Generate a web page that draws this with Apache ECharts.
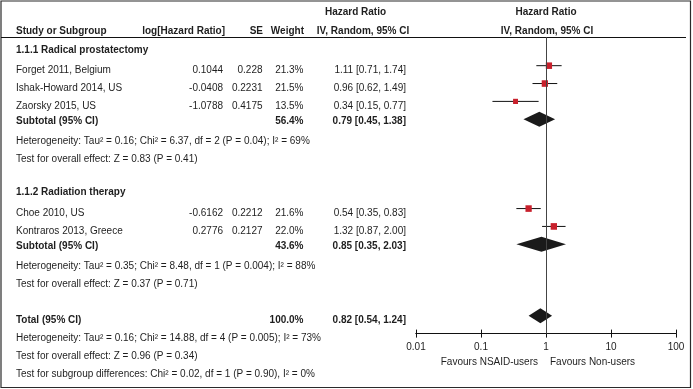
<!DOCTYPE html>
<html><head><meta charset="utf-8">
<script src="https://cdn.jsdelivr.net/npm/echarts@6/dist/echarts.min.js"></script>
<style>html,body{margin:0;padding:0;background:#fff}#c{width:693px;height:389px}</style>
</head><body><div id="c"></div>
<script>
// ---------- data ----------
const groupNames = ['1.1.1 Radical prostatectomy', '1.1.2 Radiation therapy'];
const studies = ['Forget 2011, Belgium', 'Ishak-Howard 2014, US', 'Zaorsky 2015, US', 'Choe 2010, US', 'Kontraros 2013, Greece'];
const studyGroup = [0, 0, 0, 1, 1];
const logHR = ['0.1044', '-0.0408', '-1.0788', '-0.6162', '0.2776'];
const seVals = ['0.228', '0.2231', '0.4175', '0.2212', '0.2127'];
const weights = [21.3, 21.5, 13.5, 21.6, 22.0];
const hr = [1.11, 0.96, 0.34, 0.54, 1.32];
const ciLow = [0.71, 0.62, 0.15, 0.35, 0.87];
const ciHigh = [1.74, 1.49, 0.77, 0.83, 2.00];
const subWeight = [56.4, 43.6];
const subHR = [0.79, 0.85];
const subLow = [0.45, 0.35];
const subHigh = [1.38, 2.03];
const subHet = ['Heterogeneity: Tau\u00b2 = 0.16; Chi\u00b2 = 6.37, df = 2 (P = 0.04); I\u00b2 = 69%',
                'Heterogeneity: Tau\u00b2 = 0.35; Chi\u00b2 = 8.48, df = 1 (P = 0.004); I\u00b2 = 88%'];
const subTest = ['Test for overall effect: Z = 0.83 (P = 0.41)', 'Test for overall effect: Z = 0.37 (P = 0.71)'];
const totalWeight = 100.0, totalHR = 0.82, totalLow = 0.54, totalHigh = 1.24;
const totalNotes = ['Heterogeneity: Tau\u00b2 = 0.16; Chi\u00b2 = 14.88, df = 4 (P = 0.005); I\u00b2 = 73%',
                    'Test for overall effect: Z = 0.96 (P = 0.34)',
                    'Test for subgroup differences: Chi\u00b2 = 0.02, df = 1 (P = 0.90), I\u00b2 = 0%'];
const tickValues = [0.01, 0.1, 1, 10, 100];
const tickLabels = ['0.01', '0.1', '1', '10', '100'];
const favoursLeft = 'Favours NSAID-users', favoursRight = 'Favours Non-users';
const headTop = 'Hazard Ratio', headSub = 'IV, Random, 95% CI';
const colHeads = ['Study or Subgroup', 'log[Hazard Ratio]', 'SE', 'Weight'];

// ---------- row layout ----------
const rows = []; let k = -1;
groupNames.forEach((g, gi) => {
  rows.push({k: k++, type: 'group', text: g});
  studies.forEach((s, i) => { if (studyGroup[i] === gi) rows.push({k: k++, type: 'study', i}); });
  rows.push({k: k++, type: 'sub', gi});
  rows.push({k: k++, type: 'note', text: subHet[gi]});
  rows.push({k: k++, type: 'note', text: subTest[gi]});
  k++;
});
rows.push({k: k++, type: 'total'});
totalNotes.forEach(t => rows.push({k: k++, type: 'note', text: t}));

const ciData = [], sqData = [], diaData = [];
rows.forEach(r => {
  if (r.type === 'study') { ciData.push([ciLow[r.i], ciHigh[r.i], r.k]); sqData.push([hr[r.i], r.k, weights[r.i]]); }
  if (r.type === 'sub') diaData.push([subHR[r.gi], subLow[r.gi], subHigh[r.gi], r.k]);
  if (r.type === 'total') diaData.push([totalHR, totalLow, totalHigh, r.k]);
});

const FONT = '"Liberation Sans", Arial, sans-serif';
const TXT = '#1e1e1e';
const chart = echarts.init(document.getElementById('c'), null, {renderer: 'canvas'});
const xLog = (extra) => Object.assign({
  type: 'log', logBase: 10, min: 0.01, max: 100, gridIndex: 0, position: 'bottom',
  splitLine: {show: false},
  axisLine: {show: true, onZero: false, lineStyle: {color: '#111', width: 1}},
}, extra);
chart.setOption({
  animation: false,
  grid: {left: 416, right: 17, top: 37.1, bottom: 55.4},
  xAxis: [
    xLog({axisTick: {show: true, inside: true, length: 4, lineStyle: {color: '#111'}},
          axisLabel: {margin: 9, fontSize: 10, fontFamily: FONT, color: TXT,
                      formatter: v => { const j = tickValues.findIndex(t => Math.abs(Math.log10(t) - Math.log10(v)) < 1e-6); return j >= 0 ? tickLabels[j] : ''; }}}),
    xLog({axisTick: {show: true, inside: false, length: 4, lineStyle: {color: '#111'}}, axisLabel: {show: false}})
  ],
  yAxis: {type: 'value', inverse: true, min: -1.6, max: 15, show: false},
  series: [
    {type: 'custom', data: ciData, z: 2,
     renderItem: (p, api) => {
       const a = api.coord([api.value(0), api.value(2)]), b = api.coord([api.value(1), api.value(2)]);
       return {type: 'line', shape: {x1: a[0], y1: a[1], x2: b[0], y2: b[1]}, style: {stroke: '#111', lineWidth: 1}};
     },
     markLine: {silent: true, symbol: 'none', label: {show: false}, lineStyle: {color: '#444', width: 1, type: 'solid'},
                data: [{xAxis: 1}]}},
    {type: 'scatter', data: sqData, z: 3, symbol: 'rect',
     symbolSize: v => { const s = Math.sqrt(v[2]) * 1.35; return [s, s * 1.05]; },
     itemStyle: {color: '#c8202c', opacity: 1}},
    {type: 'custom', data: diaData, z: 3,
     renderItem: (p, api) => {
       const y = api.value(3);
       const c = api.coord([api.value(0), y]), l = api.coord([api.value(1), y]), r = api.coord([api.value(2), y]);
       return {type: 'polygon', shape: {points: [[l[0], c[1]], [c[0], c[1] - 7.5], [r[0], c[1]], [c[0], c[1] + 7.5]]},
               style: {fill: '#1a1a1a'}};
     }}
  ]
});

// ---------- text ----------
const y0 = chart.convertToPixel({gridIndex: 0}, [1, 0])[1];
const y1 = chart.convertToPixel({gridIndex: 0}, [1, 1])[1];
const x1 = chart.convertToPixel({gridIndex: 0}, [1, 0])[0];
const rowY = kk => y0 + kk * (y1 - y0);
const g = [];
const txt = (text, x, y, align, bold) => g.push({type: 'text', x, y, silent: true,
  style: {text, textAlign: align, textVerticalAlign: 'middle', fill: TXT, font: (bold ? 'bold ' : '') + '10px ' + FONT}});

g.push({type: 'rect', shape: {x: 1, y: 1, width: 689.5, height: 386.5}, style: {fill: 'none', stroke: '#2a2a2a', lineWidth: 1.2}});
g.push({type: 'line', shape: {x1: 1, y1: 37.5, x2: 686, y2: 37.5}, style: {stroke: '#111', lineWidth: 1}});
txt(headTop, 355.5, 12.7, 'center', true);
txt(headTop, x1, 12.7, 'center', true);
txt(colHeads[0], 16, 31, 'left', true);
txt(colHeads[1], 225, 31, 'right', true);
txt(colHeads[2], 263, 31, 'right', true);
txt(colHeads[3], 304, 31, 'right', true);
txt(headSub, 363, 31, 'center', true);
txt(headSub, x1 + 1, 31, 'center', true);

const ciText = (e, l, h) => e.toFixed(2) + ' [' + l.toFixed(2) + ', ' + h.toFixed(2) + ']';
rows.forEach(r => {
  if (r.type === 'group') txt(r.text, 16, rowY(r.k) + 2, 'left', true);
  else if (r.type === 'note') txt(r.text, 16, rowY(r.k) + 4.5, 'left', false);
  else if (r.type === 'study') {
    const y = rowY(r.k) + 4.5, i = r.i;
    txt(studies[i], 16, y, 'left', false);
    txt(logHR[i], 223, y, 'right', false);
    txt(seVals[i], 262.5, y, 'right', false);
    txt(weights[i].toFixed(1) + '%', 303.5, y, 'right', false);
    txt(ciText(hr[i], ciLow[i], ciHigh[i]), 406, y, 'right', false);
  } else if (r.type === 'sub') {
    const y = rowY(r.k) + 1.5, gi = r.gi;
    txt('Subtotal (95% CI)', 16, y, 'left', true);
    txt(subWeight[gi].toFixed(1) + '%', 303.5, y, 'right', true);
    txt(ciText(subHR[gi], subLow[gi], subHigh[gi]), 406, y, 'right', true);
  } else if (r.type === 'total') {
    const y = rowY(r.k) + 4.5;
    txt('Total (95% CI)', 16, y, 'left', true);
    txt(totalWeight.toFixed(1) + '%', 303.5, y, 'right', true);
    txt(ciText(totalHR, totalLow, totalHigh), 406, y, 'right', true);
  }
});
txt(favoursLeft, x1 - 8, 362.5, 'right', false);
txt(favoursRight, x1 + 4, 362.5, 'left', false);
chart.setOption({graphic: g});
</script></body></html>
